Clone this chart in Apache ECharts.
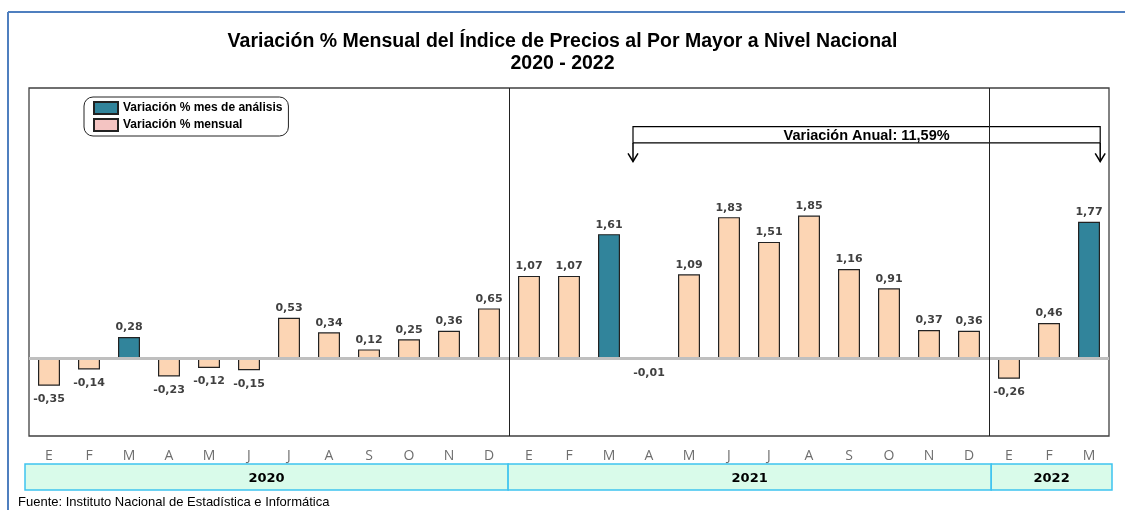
<!DOCTYPE html>
<html><head><meta charset="utf-8">
<script src="https://cdn.jsdelivr.net/npm/echarts@6/dist/echarts.min.js"></script>
<style>html,body{margin:0;padding:0;background:#fff}#c{width:1125px;height:510px}</style>
</head><body><div id="c"></div>
<script>
const months = ['E','F','M','A','M','J','J','A','S','O','N','D','E','F','M','A','M','J','J','A','S','O','N','D','E','F','M'];
const values = [-0.35,-0.14,0.28,-0.23,-0.12,-0.15,0.53,0.34,0.12,0.25,0.36,0.65,
                1.07,1.07,1.61,-0.01,1.09,1.83,1.51,1.85,1.16,0.91,0.37,0.36,
                -0.26,0.46,1.77];
const highlightIdx = [2,14,26];
const years = ['2020','2021','2022'];
const yearSpans = [12,12,3];
const seriesNames = ['Variación % mes de análisis','Variación % mensual'];
const annualText = 'Variación Anual: 11,59%';
const footer = 'Fuente: Instituto Nacional de Estadística e Informática';

const fmt = v => v.toFixed(2).replace('.', ',');
function item(v){
  const it = {value:v, label:{position: v<0?'bottom':'top', distance: v<0?8:4}};
  if (Math.abs(v) < 0.05) it.itemStyle = {color:'#A6A6A6', borderColor:'#A6A6A6', borderWidth:1.5};
  return it;
}
const hiData = values.map((v,i)=> highlightIdx.includes(i) ? item(v) : '-');
const moData = values.map((v,i)=> highlightIdx.includes(i) ? '-' : item(v));

const yearAreas = [];
let acc = 0;
years.forEach((y,i)=>{ yearAreas.push([{xAxis:acc, name:y},{xAxis:acc+yearSpans[i]}]); acc += yearSpans[i]; });
const sepLines = [];
acc = 0;
yearSpans.slice(0,-1).forEach(s=>{ acc += s; sepLines.push({xAxis:acc}); });

const labelStyle = {show:true, formatter:p=>fmt(p.value), fontFamily:'DejaVu Sans', fontWeight:'bold', fontSize:11, color:'#404040'};

const chart = echarts.init(document.getElementById('c'));
chart.setOption({
  animation:false,
  title:{text:'Variación % Mensual del Índice de Precios al Por Mayor a Nivel Nacional\n2020 - 2022',
    left:'center', top:26, textStyle:{fontFamily:'Liberation Sans', fontWeight:'bold', fontSize:19.5, lineHeight:22, color:'#000'}},
  legend:{data:[{name:seriesNames[0]},{name:seriesNames[1], itemStyle:{color:'#F4C4C2'}}],
    orient:'vertical', left:84, top:97, padding:[4,6,4,9], itemGap:3, itemWidth:24, itemHeight:12,
    borderColor:'#222', borderWidth:1, borderRadius:9, backgroundColor:'#fff', icon:'rect',
    textStyle:{fontFamily:'Liberation Sans', fontWeight:'bold', fontSize:12, color:'#000'}},
  grid:[{left:29, right:16, top:88, bottom:74, show:true, borderColor:'#404040', borderWidth:1.3, backgroundColor:'#fff'},
        {left:25, right:13, top:464, height:26}],
  xAxis:[
    {type:'category', data:months, gridIndex:0, axisLine:{show:false}, axisTick:{show:false},
     axisLabel:{margin:13, color:'#6E6E6E', fontFamily:'Open Sans', fontSize:14}},
    {type:'value', gridIndex:0, min:0, max:27, show:false},
    {type:'value', gridIndex:1, min:0, max:27, show:false}
  ],
  yAxis:[
    {type:'value', gridIndex:0, min:-1, max:3.5, show:false, splitLine:{show:false}},
    {type:'value', gridIndex:1, min:0, max:1, show:false, splitLine:{show:false}}
  ],
  series:[
    {name:seriesNames[0], type:'bar', data:hiData, barWidth:22, barGap:'-100%',
     itemStyle:{color:'#31849B', borderColor:'#222', borderWidth:1.2}, label:labelStyle},
    {name:seriesNames[1], type:'bar', data:moData, barWidth:22,
     itemStyle:{color:'#FCD5B4', borderColor:'#222', borderWidth:1.2}, label:labelStyle,
     markLine:{silent:true, symbol:'none', label:{show:false}, lineStyle:{color:'#BFBFBF', width:3, type:'solid'}, data:[{yAxis:0}]}},
    {name:'sep', type:'line', xAxisIndex:1, yAxisIndex:0, data:[[0,0]], showSymbol:false, lineStyle:{opacity:0},
     markLine:{silent:true, symbol:'none', label:{show:false}, lineStyle:{color:'#222', width:1, type:'solid'}, data:sepLines}},
    {name:'years', type:'line', xAxisIndex:2, yAxisIndex:1, data:[[0,0]], showSymbol:false, lineStyle:{opacity:0},
     markArea:{silent:true, itemStyle:{color:'#D9FBEA', borderColor:'#3EC3F0', borderWidth:1.5},
       label:{show:true, position:'inside', offset:[0,2], fontFamily:'DejaVu Sans', fontWeight:'bold', fontSize:13, color:'#000'},
       data:yearAreas}}
  ]
});

const px = (x,y)=>[chart.convertToPixel({xAxisIndex:1}, x), chart.convertToPixel({yAxisIndex:0}, y)];
const aL = 15.1, aR = 26.78;
const [x1, yt] = px(aL, 3.0);
const [x2, yb] = px(aR, 2.79);
const [, ya] = px(aL, 2.55);
const arrow = x => ({type:'group', children:[
  {type:'line', shape:{x1:x, y1:yb, x2:x, y2:ya}, style:{stroke:'#000', lineWidth:1.5}},
  {type:'polyline', shape:{points:[[x-5,ya-8],[x,ya],[x+5,ya-8]]}, style:{stroke:'#000', lineWidth:1.5, fill:null}}
]});
chart.setOption({graphic:[
  {type:'line', shape:{x1:8, y1:12, x2:1125, y2:12}, style:{stroke:'#4F7FBF', lineWidth:2}},
  {type:'line', shape:{x1:8, y1:12, x2:8, y2:510}, style:{stroke:'#4F7FBF', lineWidth:2}},
  {type:'rect', shape:{x:x1, y:yt, width:x2-x1, height:yb-yt}, style:{fill:'#fff', stroke:'#000', lineWidth:1.2}},
  {type:'text', x:(x1+x2)/2, y:(yt+yb)/2 + 1, style:{text:annualText, align:'center', verticalAlign:'middle', font:'bold 14.5px "Liberation Sans"', fill:'#000'}},
  arrow(x1), arrow(x2),
  {type:'text', left:18, top:496, style:{text:footer, font:'13px "Liberation Sans"', fill:'#000'}}
]});
</script></body></html>
